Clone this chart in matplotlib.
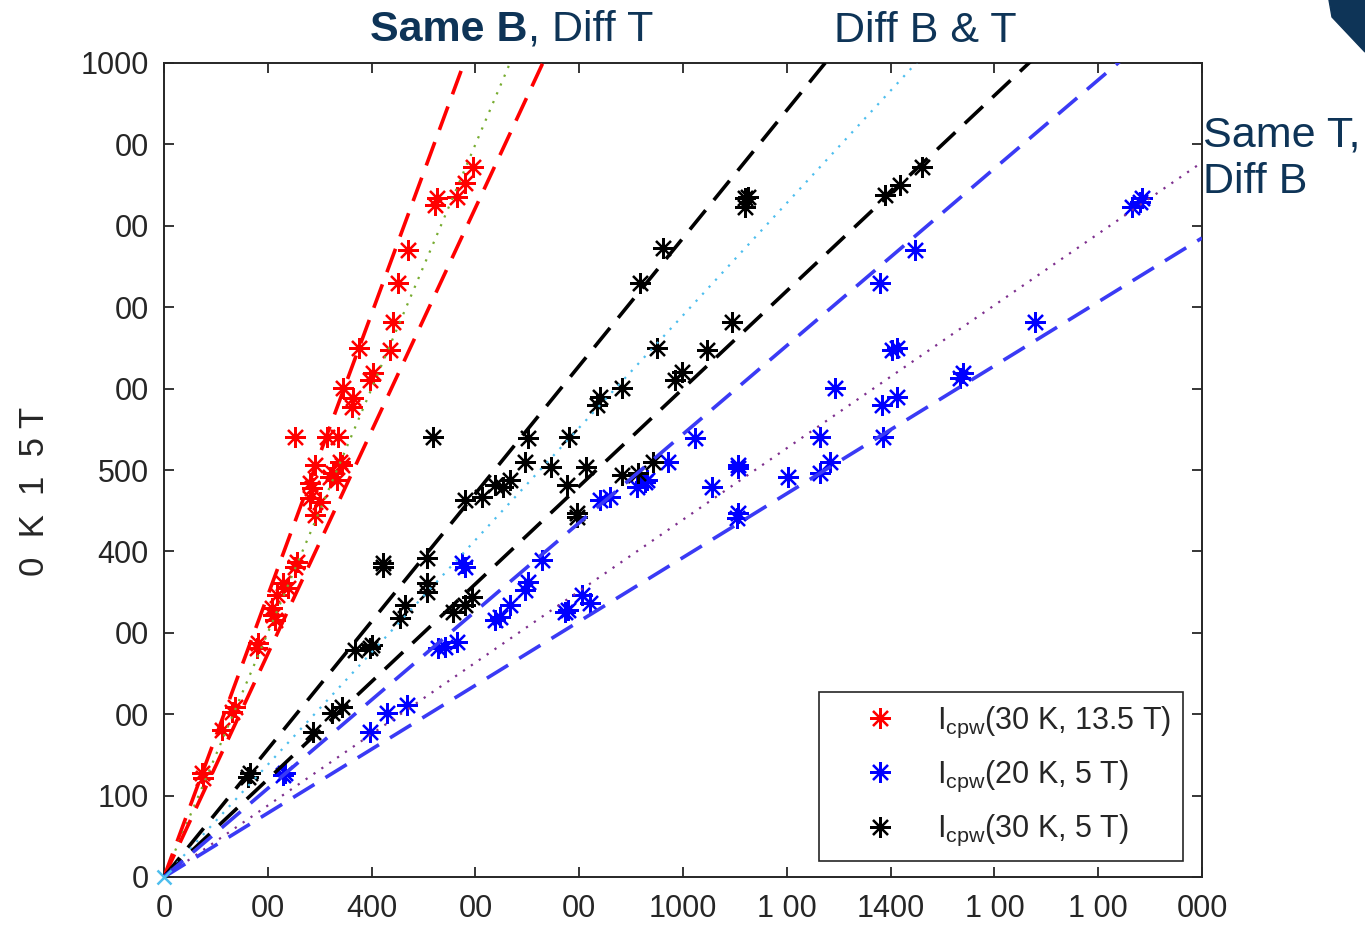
import matplotlib.pyplot as plt
import numpy as np
from matplotlib.patches import Polygon

plt.rcParams['font.family'] = ['Liberation Sans', 'DejaVu Sans']
plt.rcParams['mathtext.fontset'] = 'custom'
plt.rcParams['mathtext.rm'] = 'Liberation Sans'
plt.rcParams['mathtext.it'] = 'Liberation Sans:italic'
plt.rcParams['mathtext.default'] = 'regular'

# Icpw(30 K, 13.5 T)
red_x = [252, 314, 335, 291, 339, 343, 326, 320, 333, 281, 285, 281, 301, 291,
         345, 364, 362, 403, 397, 376, 435, 441, 451, 470, 526, 522, 565, 580, 595,
         256, 252, 229, 239, 218, 208, 210, 214, 181, 179, 137, 131, 112, 73, 75]
red_y = [541, 541, 541, 506, 510, 506, 496, 491, 488, 484, 478, 466, 461, 445,
         601, 588, 577, 619, 611, 650, 647, 682, 730, 770, 834, 826, 835, 853, 872,
         387, 381, 361, 355, 346, 330, 322, 316, 287, 281, 209, 203, 181, 128, 122]

# Icpw(20 K, 5 T)
blue_x = [233, 229, 397, 430, 468, 528, 541, 565, 574, 580, 728, 701, 696, 667,
          638, 647, 773, 778, 805, 821, 840, 859, 911, 927, 931, 971, 1023, 1056,
          1106, 1106, 1202, 1283, 1264, 1264, 1293, 1385, 1383, 1412, 1403, 1412,
          1380, 1447, 1106, 1104, 1540, 1534, 1678, 1865, 1884, 1881]
blue_y = [128, 125, 178, 201, 211, 281, 283, 289, 386, 381, 389, 362, 353, 334,
          316, 319, 326, 328, 346, 337, 463, 467, 479, 485, 488, 510, 539, 479,
          506, 502, 491, 510, 496, 541, 601, 541, 580, 590, 647, 650,
          730, 770, 447, 441, 619, 613, 682, 823, 834, 829]

# Icpw(30 K, 5 T)
black_x = [166, 162, 287, 324, 343, 368, 401, 397, 455, 464, 507, 507, 507, 422,
           422, 557, 580, 593, 518, 701, 780, 696, 746, 813, 776, 638, 653, 667,
           580, 613, 796, 796, 834, 840, 882, 913, 942, 882, 985, 998, 950, 1046,
           1094, 917, 961, 1119, 1119, 1125, 1389, 1418, 1460]
black_y = [128, 123, 178, 201, 209, 279, 285, 281, 318, 334, 361, 350, 392, 386,
           381, 326, 334, 344, 541, 539, 541, 510, 504, 504, 482, 482, 479, 488,
           463, 467, 447, 442, 580, 590, 494, 496, 510, 601, 611, 620, 650, 647,
           682, 730, 773, 834, 823, 835, 838, 850, 872]

# slopes of the fit lines through the origin
red_slopes = [1.73, 1.50, 1.37]
black_slopes = [0.785, 0.69, 0.60]
blue_slopes = [0.544, 0.439, 0.3925]

xticks = np.arange(0, 2001, 200)
yticks = np.arange(0, 1001, 100)
xtick_labels = ['0', '00', '400', '00', '00', '1000', '1 00', '1400', '1 00', '1 00', '000']
ytick_labels = ['0', '100', '00', '00', '400', '500', '00', '00', '00', '00', '1000']

navy = '#0e3457'
axis_gray = '#262626'

W, H = 1365, 926
fig = plt.figure(figsize=(W / 100, H / 100), dpi=100)
ax = fig.add_axes([164 / W, 1 - 877 / H, (1202 - 164) / W, (877 - 63) / H])

star = (8, 2, 0)
ms = 15
mew = 1.6
h_red, = ax.plot(red_x, red_y, ls='none', marker=star, ms=ms, mew=mew, color='#ff0000',
                 label=r'I$_{cpw}$(30 K, 13.5 T)')
h_blue, = ax.plot(blue_x, blue_y, ls='none', marker=star, ms=ms, mew=mew, color='#0000ff',
                  label=r'I$_{cpw}$(20 K, 5 T)')
h_black, = ax.plot(black_x, black_y, ls='none', marker=star, ms=ms, mew=mew, color='#000000',
                   label=r'I$_{cpw}$(30 K, 5 T)')

# fit lines: dashed bounds and a dotted centre line for each set
xf = np.array([0, 2000])
groups = [(red_slopes, '#ff0000', '#77ac30'),
          (black_slopes, '#000000', '#4dbeee'),
          (blue_slopes, '#3a3af5', '#7e2f8e')]
for slopes, dash_col, dot_col in groups:
    for i, s in enumerate(slopes):
        if i == 1:
            ax.plot(xf, s * xf, color=dot_col, lw=1.6, dashes=(1, 3.3), zorder=3)
        else:
            ax.plot(xf, s * xf, color=dash_col, lw=2.6, dashes=(6.9, 3.6), zorder=3)

ax.plot([0], [0], marker='x', ms=10, mew=1.8, color='#4dbeee', ls='none', zorder=4, clip_on=False)

ax.set_xlim(0, 2000)
ax.set_ylim(0, 1000)
ax.set_xticks(xticks)
ax.set_xticklabels(xtick_labels)
ax.set_yticks(yticks)
ax.set_yticklabels(ytick_labels)
ax.tick_params(direction='in', length=7, width=1.3, top=True, right=True,
               labelsize=22, colors=axis_gray)
ax.tick_params(axis='x', pad=12)
ax.tick_params(axis='y', pad=11)
for sp in ax.spines.values():
    sp.set_linewidth(1.4)
    sp.set_color(axis_gray)

leg = ax.legend(handles=[h_red, h_blue, h_black], loc='lower right',
                bbox_to_anchor=(0.982, 0.02), borderaxespad=0, fontsize=22,
                frameon=True, fancybox=False, edgecolor=axis_gray, framealpha=1,
                handlelength=3.2, handletextpad=0.25, borderpad=0.4, labelspacing=0.63)
leg.get_frame().set_linewidth(1.2)
for t in leg.get_texts():
    t.set_color(axis_gray)

fig.text(35 / W, 1 - 491 / H, '0  K  1  5 T', rotation=90, ha='center', va='center',
         fontsize=25, color=axis_gray)

# headings around the plot
t1 = fig.text(370 / W, 1 - 30 / H, 'Same B', fontsize=31, fontweight='bold',
              color=navy, ha='left', va='center')
ax.annotate(', Diff T', xy=(1, 0), xycoords=t1, fontsize=31, color=navy,
            ha='left', va='bottom', annotation_clip=False)
fig.text(925 / W, 1 - 31 / H, 'Diff B & T', fontsize=31, color=navy,
         ha='center', va='center')
fig.text(1203 / W, 1 - 159 / H, 'Same T,\nDiff B', fontsize=31, color=navy,
         ha='left', va='center', linespacing=1.2)

fig.patches.append(Polygon([(1329 / W, 1), (1, 1), (1, 1 - 52 / H), (1332 / W, 1 - 17 / H)],
                           closed=True, transform=fig.transFigure, color=navy, zorder=5))

fig.savefig('out.png', dpi=100)
